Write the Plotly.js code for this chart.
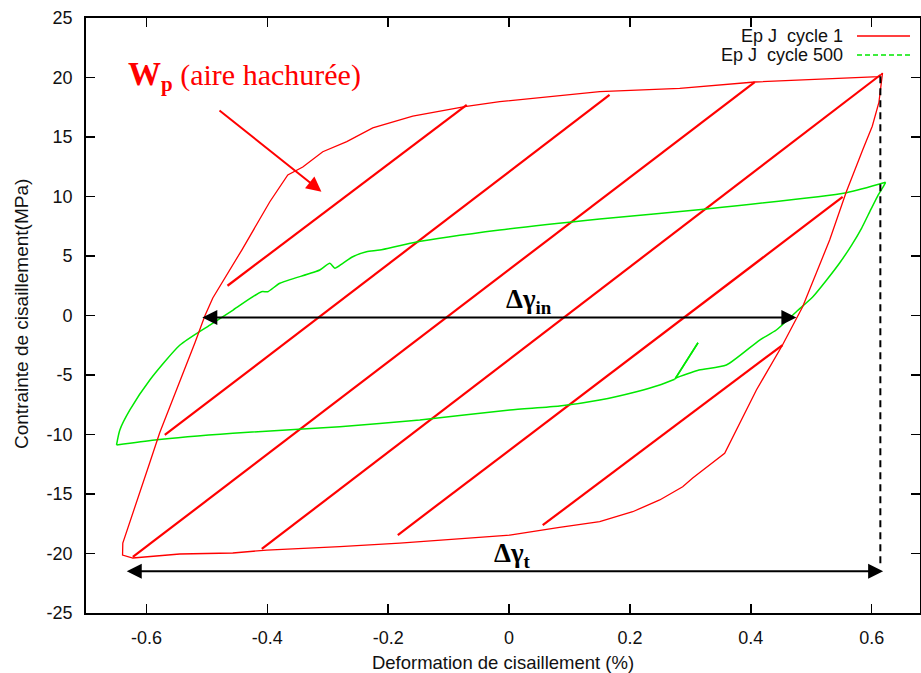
<!DOCTYPE html>
<html>
<head>
<meta charset="utf-8">
<script src="https://cdn.plot.ly/plotly-3.0.1.min.js"></script>
<style>
html,body{margin:0;padding:0;background:#fff;}
#chart{width:921px;height:673px;}
</style>
</head>
<body>
<div id="chart"></div>
<script>
// Cycle 1 (red loop)
const cycle1X = [0.618,0.612,0.4065,0.2824,0.150,-0.0154,-0.0733,-0.1593,-0.2255,-0.2685,-0.3082,-0.3413,-0.3661,-0.3793,-0.3958,-0.4422,-0.4902,-0.5034,-0.5199,-0.5481,-0.5779,-0.5944,-0.6109,-0.6258,-0.6391,-0.6395,-0.6225,-0.5448,-0.4571,-0.4008,-0.2801,-0.1808,0.0012,0.0835,0.150,0.2046,0.2493,0.2873,0.3039,0.3568,0.4093,0.4525,0.4858,0.5305,0.5581,0.5851,0.6010,0.6120,0.618];
const cycle1Y = [20.38,20.07,19.62,19.08,18.81,17.97,17.55,16.76,15.76,14.61,13.76,12.48,11.81,10.82,9.56,5.50,1.47,-0.04,-2.31,-5.97,-9.83,-12.35,-14.83,-17.18,-19.12,-20.13,-20.38,-20.04,-19.96,-19.71,-19.43,-19.12,-18.45,-17.80,-17.33,-16.49,-15.50,-14.39,-13.66,-11.58,-6.26,-2.48,0.74,6.34,10.40,13.91,15.90,17.90,20.38];

// Cycle 500 (green loop)
const cycle500X = [0.623,0.5581,0.3266,0.150,-0.0154,-0.1588,-0.2139,-0.2359,-0.2586,-0.2751,-0.2883,-0.2966,-0.3131,-0.3793,-0.3992,-0.4096,-0.4566,-0.4951,-0.5445,-0.5944,-0.6274,-0.6440,-0.6495,-0.5861,-0.4571,-0.2801,-0.1477,0.0012,0.0835,0.150,0.2108,0.2493,0.2741,0.3127,0.2758,0.3142,0.3596,0.4147,0.4423,0.4754,0.5024,0.5255,0.5470,0.5669,0.5835,0.5983,0.6099,0.6198,0.623];
const cycle500Y = [11.19,10.32,8.95,8.11,7.18,6.12,5.50,5.36,4.94,4.39,3.97,4.39,3.82,2.71,2.00,2.00,0.46,-0.80,-2.48,-5.42,-7.94,-9.62,-10.88,-10.46,-9.90,-9.34,-8.78,-7.94,-7.61,-7.10,-6.40,-5.84,-5.36,-2.29,-5.25,-4.58,-4.16,-2.06,-1.22,0.32,1.55,2.98,4.41,5.92,7.35,8.87,10.04,10.88,11.19];
// indices where the cycle-500 path has sharp corners
const cycle500Corners = [22, 32, 33, 34];

// Hatching segments
const hatchX0 = [-0.4659,-0.5696,-0.6225,-0.4091,-0.1841,0.0557];
const hatchY0 = [2.50,-10.04,-20.29,-19.62,-18.45,-17.62];
const hatchX1 = [-0.0700,0.1663,0.4065,0.6144,0.5520,0.4525];
const hatchY1 = [17.69,18.53,19.62,20.21,9.96,-2.48];

// Vertical dashed marker at the max strain
const strainMaxX = [0.6144,0.6144];
const strainMaxY = [20.1,-21.0];

// Arrows (tail -> head)
const gammaInX = [-0.510,0.4754], gammaInY = -0.17;
const gammaTX = [-0.635,0.619], gammaTY = -21.5;
const wpArrowTail = [-0.4816,17.33], wpArrowHead = [-0.3104,10.40];

// Ticks
const xTickVals = [-0.6,-0.4,-0.2,0,0.2,0.4,0.6];
const xTickText = ['-0.6','-0.4','-0.2','0','0.2','0.4','0.6'];
const yTickVals = [-25,-20,-15,-10,-5,0,5,10,15,20,25];
const yTickText = ['-25','-20','-15','-10','-5','0','5','10','15','20','25'];

const legendNames = ['Ep J\u00a0 cycle 1','Ep J\u00a0 cycle 500'];

const RED = '#ff0000', GREEN = '#00e800';

const hx = [], hy = [];
for (let i = 0; i < hatchX0.length; i++) {
  hx.push(hatchX0[i], hatchX1[i], null);
  hy.push(hatchY0[i], hatchY1[i], null);
}

const traces = [
  {x: hx, y: hy, mode: 'lines', line: {color: RED, width: 2.2}, showlegend: false, hoverinfo: 'skip'}
];
// green loop drawn piecewise so its sharp corners stay sharp
const cuts = [0].concat(cycle500Corners, [cycle500X.length - 1]);
for (let k = 0; k < cuts.length - 1; k++) {
  const a = cuts[k], b = cuts[k + 1];
  traces.push({x: cycle500X.slice(a, b + 1), y: cycle500Y.slice(a, b + 1), mode: 'lines',
    line: {color: GREEN, width: 1.5, shape: 'spline', smoothing: 0.6}, showlegend: false, name: legendNames[1]});
}
traces.push(
  {x: cycle1X, y: cycle1Y, mode: 'lines', line: {color: RED, width: 1.3}, showlegend: false, name: legendNames[0]},
  {x: strainMaxX, y: strainMaxY, mode: 'lines', line: {color: '#000', width: 2, dash: '7px,5px'}, showlegend: false, hoverinfo: 'skip'}
);

const sansFont = 'Liberation Sans, Arimo, Helvetica, Arial, sans-serif';
const serifFont = 'Liberation Serif, Times New Roman, serif';

function arrow(x0, y0, x1, y1, color, both) {
  const a = {x: x1, y: y1, ax: x0, ay: y0, xref: 'x', yref: 'y', axref: 'x', ayref: 'y',
    text: '', showarrow: true, arrowhead: 2, arrowsize: 1.5, arrowwidth: 2, arrowcolor: color};
  if (both) { a.arrowside = 'end+start'; a.startarrowhead = 2; a.startarrowsize = 1.5; }
  return a;
}

const pxX = p => (p - 86) / 834;
const pxY = p => (613 - p) / 595;

const layout = {
  width: 921, height: 673,
  margin: {l: 86, r: 1, t: 18, b: 60},
  paper_bgcolor: '#fff', plot_bgcolor: '#fff',
  showlegend: false,
  xaxis: {
    range: [-0.7, 0.68], tickvals: xTickVals, ticktext: xTickText,
    ticks: 'inside', ticklen: 9, tickwidth: 1.5, tickcolor: '#000',
    showline: true, linecolor: '#000', linewidth: 1.8, mirror: 'allticks',
    showgrid: false, zeroline: false, ticklabelstandoff: 8,
    tickfont: {family: sansFont, size: 18, color: '#111'},
    title: {text: 'Deformation de cisaillement (%)', font: {family: sansFont, size: 18.5, color: '#111'}, standoff: 10}
  },
  yaxis: {
    range: [-25, 25], tickvals: yTickVals, ticktext: yTickText,
    ticks: 'inside', ticklen: 9, tickwidth: 1.5, tickcolor: '#000',
    showline: true, linecolor: '#000', linewidth: 1.8, mirror: 'allticks',
    showgrid: false, zeroline: false, ticklabelstandoff: 8,
    tickfont: {family: sansFont, size: 18, color: '#111'}
  },
  shapes: [
    {type: 'line', xref: 'paper', yref: 'paper', x0: pxX(857), x1: pxX(910), y0: pxY(36), y1: pxY(36), line: {color: RED, width: 1.5}},
    {type: 'line', xref: 'paper', yref: 'paper', x0: pxX(857), x1: pxX(910), y0: pxY(55), y1: pxY(55), line: {color: GREEN, width: 1.5, dash: '5px,3px'}}
  ],
  annotations: [
    {xref: 'paper', yref: 'paper', x: pxX(21), y: pxY(314), xanchor: 'center', yanchor: 'middle', showarrow: false,
     textangle: -90, text: 'Contrainte de cisaillement(MPa)', font: {family: sansFont, size: 19, color: '#111'}},
    {xref: 'paper', yref: 'paper', x: pxX(845), y: pxY(36), xanchor: 'right', yanchor: 'middle', showarrow: false,
     text: legendNames[0], font: {family: sansFont, size: 18, color: '#111'}},
    {xref: 'paper', yref: 'paper', x: pxX(845), y: pxY(55), xanchor: 'right', yanchor: 'middle', showarrow: false,
     text: legendNames[1], font: {family: sansFont, size: 18, color: '#111'}},
    {xref: 'x', yref: 'y', x: -0.438, y: 20.1, showarrow: false, xanchor: 'center', yanchor: 'middle',
     text: '<b><span style="font-size:33px">W</span><sub>p</sub></b> (aire hachurée)', font: {family: serifFont, size: 30, color: RED}},
    {xref: 'x', yref: 'y', x: 0.033, y: 1.2, showarrow: false, xanchor: 'center', yanchor: 'middle',
     text: '<b>Δγ<sub>in</sub></b>', font: {family: serifFont, size: 27, color: '#000'}},
    {xref: 'x', yref: 'y', x: 0.006, y: -20.1, showarrow: false, xanchor: 'center', yanchor: 'middle',
     text: '<b>Δγ<sub>t</sub></b>', font: {family: serifFont, size: 27, color: '#000'}},
    arrow(gammaInX[0], gammaInY, gammaInX[1], gammaInY, '#000', true),
    arrow(gammaTX[0], gammaTY, gammaTX[1], gammaTY, '#000', true),
    arrow(wpArrowTail[0], wpArrowTail[1], wpArrowHead[0], wpArrowHead[1], RED, false)
  ]
};

Plotly.newPlot('chart', traces, layout, {displayModeBar: false, staticPlot: true});
</script>
</body>
</html>
